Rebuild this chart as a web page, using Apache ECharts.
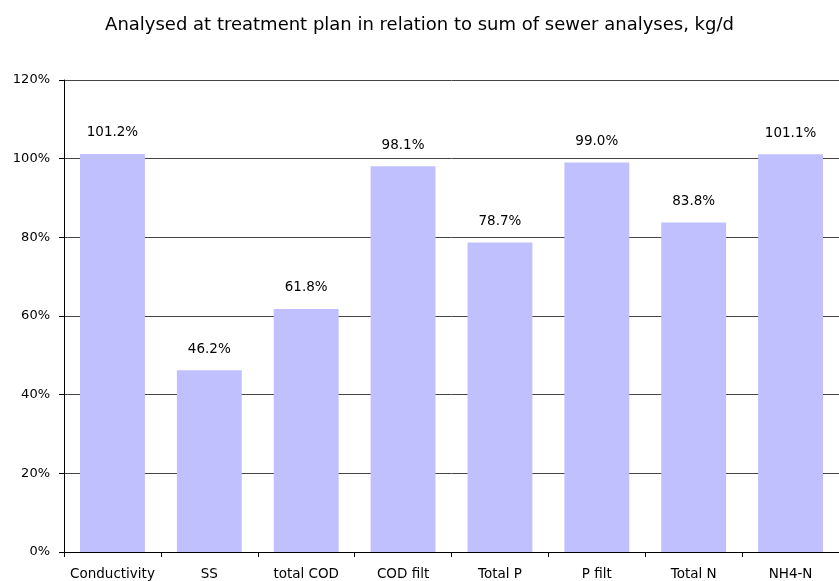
<!DOCTYPE html>
<html>
<head>
<meta charset="utf-8">
<script src="https://cdn.jsdelivr.net/npm/echarts@6/dist/echarts.min.js"></script>
<style>
  html, body { margin: 0; padding: 0; background: #fff; }
  #chart { width: 839px; height: 581px; }
</style>
</head>
<body>
<div id="chart"></div>
<script>
// categories and values (percent)
var categories = ['Conductivity', 'SS', 'total COD', 'COD filt', 'Total P', 'P filt', 'Total N', 'NH4-N']
var values = [101.2, 46.2, 61.8, 98.1, 78.7, 99.0, 83.8, 101.1]
var yTicks = [0, 20, 40, 60, 80, 100, 120]

var FONT = 'DejaVu Sans'
var myChart = echarts.init(document.getElementById('chart'))
var option = {
  animation: false,
  title: {
    text: 'Analysed at treatment plan in relation to sum of sewer analyses, kg/d',
    left: 'center',
    top: 11,
    textStyle: {
      fontFamily: FONT,
      fontSize: 18,
      fontWeight: 'normal',
      color: '#000'
    }
  },
  grid: {
    left: 64,
    top: 80,
    width: 780,
    height: 473
  },
  xAxis: {
    type: 'category',
    data: categories,
    axisLine: { lineStyle: { color: '#000', width: 1 } },
    axisTick: { show: true, length: 5, inside: false, lineStyle: { color: '#000' } },
    axisLabel: {
      fontFamily: FONT,
      fontSize: 13.5,
      color: '#000',
      margin: 15,
      interval: 0
    }
  },
  yAxis: {
    type: 'value',
    min: yTicks[0],
    max: yTicks[yTicks.length - 1],
    interval: 20,
    axisLine: { show: true, lineStyle: { color: '#000', width: 1 } },
    axisTick: { show: true, length: 5, lineStyle: { color: '#000' } },
    axisLabel: {
      fontFamily: FONT,
      fontSize: 13,
      color: '#000',
      margin: 14,
      formatter: function (v) { return v + '%' }
    },
    splitLine: { show: true, lineStyle: { color: '#444', width: 1 } }
  },
  series: [
    {
      type: 'bar',
      data: values,
      barWidth: '67%',
      itemStyle: { color: '#C0C0FF' },
      label: {
        show: true,
        position: 'top',
        distance: 14,
        fontFamily: FONT,
        fontSize: 13.5,
        color: '#000',
        formatter: function (p) { return p.value.toFixed(1) + '%' }
      }
    }
  ]
}
myChart.setOption(option)
</script>
</body>
</html>
